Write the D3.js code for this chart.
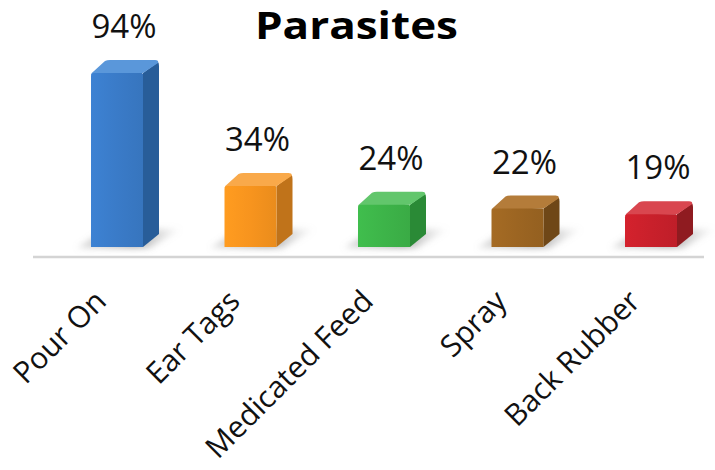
<!DOCTYPE html>
<html><head><meta charset="utf-8">
<script src="https://cdn.jsdelivr.net/npm/d3@7"></script>
<style>html,body{margin:0;padding:0;background:#fff}svg{display:block}</style>
</head><body>
<svg id="c" width="715" height="470"></svg>
<script>
const categories = ["Pour On", "Ear Tags", "Medicated Feed", "Spray", "Back Rubber"];
const values = [94, 34, 24, 22, 19];
const valueLabels = ["94%", "34%", "24%", "22%", "19%"];
const frontColors = ["#3a7bc8", "#f7941e", "#3db449", "#9c6522", "#c9202b"];
const sideColors  = ["#285d99", "#c0731a", "#2a8a36", "#6f4717", "#8f1b20"];
const topColors   = ["#5a97da", "#f9a94a", "#62c66c", "#b47c3a", "#d9464f"];
const title = "Parasites";

const svg = d3.select("#c");
const x = d3.scalePoint().domain(categories).range([50.25, 717.75]).padding(0.5);
const y = d3.scaleLinear().domain([0, 100]).range([250, 61.7]);
const bw = 52, dx = 15, dy = 13;
const yb = y(0) - 3;

const defs = svg.append("defs");
const f = defs.append("filter").attr("id","blur").attr("x","-50%").attr("y","-50%").attr("width","200%").attr("height","200%");
f.append("feGaussianBlur").attr("stdDeviation", 3);
const sg = defs.append("linearGradient").attr("id","shadowGrad").attr("x1","0").attr("x2","1").attr("y1","0").attr("y2","0");
sg.append("stop").attr("offset","0").attr("stop-color","#999").attr("stop-opacity",0.3);
sg.append("stop").attr("offset","0.55").attr("stop-color","#888").attr("stop-opacity",0.7);
sg.append("stop").attr("offset","1").attr("stop-color","#aaa").attr("stop-opacity",0.0);
frontColors.forEach((c,i)=>{
  const g = defs.append("linearGradient").attr("id","fg"+i).attr("x1","0").attr("x2","1").attr("y1","0").attr("y2","0");
  g.append("stop").attr("offset","0").attr("stop-color", d3.color(c).brighter(0.15));
  g.append("stop").attr("offset","0.5").attr("stop-color", c);
  g.append("stop").attr("offset","1").attr("stop-color", d3.color(c).darker(0.15));
});

// axis line
svg.append("line").attr("x1", 33).attr("x2", 704).attr("y1", 257).attr("y2", 257)
  .attr("stroke", "#d4d4d4").attr("stroke-width", 2.5);

const data = categories.map((c,i)=>({c, v: values[i], lab: valueLabels[i], i}));
const g = svg.selectAll("g.bar").data(data).enter().append("g").attr("class","bar");

// shadow
g.append("path").attr("filter","url(#blur)").attr("fill","url(#shadowGrad)")
  .attr("d", d => {
    const x0 = x(d.c) - bw/2, x1 = x(d.c) + bw/2;
    return `M${x0-14},${yb+1} L${x1+6},${yb+1} L${x1+dx+24},${yb-dy-5} L${x0+dx},${yb-dy-5} Z`;
  });
// side
g.append("path").attr("fill", d => sideColors[d.i])
  .attr("d", d => {
    const x1 = x(d.c) + bw/2, yt = y(d.v);
    return `M${x1},${yt} L${x1+dx},${yt-dy+2} Q${x1+dx+1},${yt-dy+3} ${x1+dx+1},${yt-dy+6} L${x1+dx+1},${yb-dy} L${x1},${yb} Z`;
  });
// top
g.append("path").attr("fill", d => topColors[d.i])
  .attr("d", d => {
    const x0 = x(d.c) - bw/2, x1 = x(d.c) + bw/2, yt = y(d.v);
    return `M${x0},${yt+2} Q${x0},${yt} ${x0+3},${yt-2} L${x0+dx-1},${yt-dy+1} Q${x0+dx+1},${yt-dy} ${x0+dx+4},${yt-dy} L${x1+dx-3},${yt-dy} Q${x1+dx+1},${yt-dy} ${x1+dx},${yt-dy+3} L${x1},${yt} Z`;
  });
// front
g.append("path").attr("fill", d => `url(#fg${d.i})`)
  .attr("d", d => {
    const x0 = x(d.c) - bw/2, x1 = x(d.c) + bw/2, yt = y(d.v);
    return `M${x0},${yb} L${x0},${yt+3} Q${x0},${yt} ${x0+3},${yt} L${x1-1},${yt} L${x1},${yt+1} L${x1},${yb} Z`;
  });

// value labels
g.append("text").attr("x", d => x(d.c) + 7).attr("y", d => y(d.v) - 35)
  .attr("text-anchor","middle").attr("font-family","'Open Sans', sans-serif")
  .attr("font-size", 33).attr("fill","#111").text(d => d.lab);

// category labels
svg.selectAll("text.cat").data(categories).enter().append("text").attr("class","cat")
  .attr("transform", c => `translate(${x(c)-9},303) rotate(-45)`)
  .attr("text-anchor","end").attr("font-family","'Open Sans', sans-serif")
  .attr("font-size", 30).attr("fill","#111").text(c => c);

// title
svg.append("text").attr("x", 356.5).attr("y", 39).attr("text-anchor","middle")
  .attr("font-family","'Open Sans', sans-serif").attr("font-weight","bold")
  .attr("font-size", 37).attr("textLength", 203).attr("lengthAdjust","spacingAndGlyphs")
  .attr("fill","#000").text(title);
</script>
</body></html>
